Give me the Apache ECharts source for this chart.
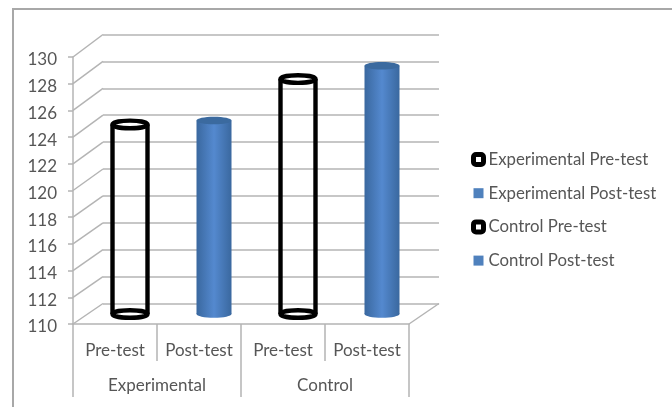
<!DOCTYPE html>
<html>
<head>
<meta charset="utf-8">
<style>html,body{margin:0;padding:0;background:#fff}#c{width:672px;height:407px}</style>
<script src="https://cdn.jsdelivr.net/npm/echarts@6/dist/echarts.min.js"></script>
</head>
<body>
<div id="c"></div>
<script>
// Pre-test and post-test scores for the two study groups
const testLabels = ['Pre-test', 'Post-test', 'Pre-test', 'Post-test'];
const groupLabels = ['Experimental', 'Control'];
const seriesNames = ['Experimental Pre-test', 'Experimental Post-test', 'Control Pre-test', 'Control Post-test'];
const seriesValues = [124.2, 124.5, 127.6, 128.6];
const seriesHollow = [true, false, true, false];
const axisTicks = [110, 112, 114, 116, 118, 120, 122, 124, 126, 128, 130];

const FONT = 'Lato';
const TEXT = '#565656';
const LINE = '#b4b4b4';
const DEPTH_X = 30;
const DEPTH_Y = 20;

const chart = echarts.init(document.getElementById('c'), null, { renderer: 'canvas' });

// Cylinder standing on the mid-depth of the floor
function cylinder(index) {
  return function (params, api) {
    const top = api.coord([api.value(0), api.value(1)]);
    const base = api.coord([api.value(0), 110]);
    const cx = top[0] + DEPTH_X / 2;
    const yTop = top[1] - DEPTH_Y / 2;
    const yBase = base[1] - DEPTH_Y / 2;
    const rx = 17.5;
    const ry = 3.8;
    if (seriesHollow[index]) {
      const pen = { stroke: '#000', lineWidth: 4.4, fill: null };
      return {
        type: 'group',
        children: [
          { type: 'line', shape: { x1: cx - rx, y1: yTop, x2: cx - rx, y2: yBase }, style: pen },
          { type: 'line', shape: { x1: cx + rx, y1: yTop, x2: cx + rx, y2: yBase }, style: pen },
          { type: 'ellipse', shape: { cx: cx, cy: yBase, rx: rx, ry: ry }, style: { stroke: '#000', lineWidth: 4.4, fill: '#fff' } },
          { type: 'ellipse', shape: { cx: cx, cy: yTop, rx: rx, ry: ry }, style: { stroke: '#000', lineWidth: 4.4, fill: '#fff' } }
        ]
      };
    }
    const side = new echarts.graphic.LinearGradient(0, 0, 1, 0, [
      { offset: 0, color: '#3a689f' },
      { offset: 0.5, color: '#5489cf' },
      { offset: 1, color: '#3a689f' }
    ]);
    return {
      type: 'group',
      children: [
        { type: 'ellipse', shape: { cx: cx, cy: yBase, rx: rx, ry: ry }, style: { fill: side } },
        { type: 'rect', shape: { x: cx - rx, y: yTop, width: rx * 2, height: yBase - yTop }, style: { fill: side } },
        { type: 'ellipse', shape: { cx: cx, cy: yTop, rx: rx, ry: ry }, style: { fill: '#3b6a9f' } }
      ]
    };
  };
}

// Receding lines of the left wall and of the right floor edge
function wallLines(params, api) {
  const v = api.value(0);
  const front = api.coord([0, v]);
  const left = front[0] - (params.coordSys.width / testLabels.length) / 2;
  const back = chart.convertToPixel({ gridIndex: 1 }, [0, v]);
  const children = [{
    type: 'line',
    shape: { x1: left, y1: front[1], x2: left + DEPTH_X, y2: back[1] },
    style: { stroke: LINE, lineWidth: 1.5 }
  }];
  if (v === axisTicks[0]) {
    const right = left + params.coordSys.width;
    children.push({
      type: 'line',
      shape: { x1: right, y1: front[1], x2: right + DEPTH_X, y2: back[1] },
      style: { stroke: LINE, lineWidth: 1.5 }
    });
  }
  return { type: 'group', children: children };
}

const legendIcon = function (i) {
  return seriesHollow[i]
    ? { name: seriesNames[i], icon: 'roundRect', itemStyle: { color: '#fff', borderColor: '#000', borderWidth: 5 } }
    : { name: seriesNames[i], icon: 'rect', itemStyle: { color: '#4f81bd', borderWidth: 0 } };
};

const baseOption = {
  animation: false,
  backgroundColor: '#fff',
  textStyle: { fontFamily: FONT },
  graphic: [{
    type: 'rect', silent: true, z: -1,
    shape: { x: 13, y: 9, width: 700, height: 440 },
    style: { fill: '#fff', stroke: '#a8a8a8', lineWidth: 2 }
  }],
  legend: {
    orient: 'vertical', left: 471, top: 151, padding: 0, itemGap: 16.7,
    itemWidth: 10, itemHeight: 10,
    textStyle: { fontFamily: FONT, fontSize: 16.8, color: TEXT },
    data: seriesNames.map(function (n, i) { return legendIcon(i); })
  },
  grid: [
    { left: 73, top: 57, width: 336, height: 267 },
    { left: 103, top: 34.5, width: 336, height: 269 }
  ],
  xAxis: [
    {
      type: 'category', gridIndex: 0, data: testLabels,
      axisLine: { lineStyle: { color: LINE, width: 1.5 } },
      axisTick: { show: true, length: 37, lineStyle: { color: LINE, width: 1.5 } },
      axisLabel: { fontFamily: FONT, fontSize: 17, color: TEXT, margin: 18, interval: 0 }
    },
    {
      type: 'category', gridIndex: 0, position: 'bottom', data: groupLabels,
      axisLine: { show: false },
      axisTick: { show: true, length: 73, lineStyle: { color: LINE, width: 1.5 } },
      axisLabel: { fontFamily: FONT, fontSize: 17, color: TEXT, margin: 53, interval: 0 }
    },
    {
      type: 'category', gridIndex: 1, data: testLabels,
      axisLine: { show: false }, axisTick: { show: false }, axisLabel: { show: false }
    }
  ],
  yAxis: [
    {
      type: 'value', gridIndex: 0, min: 110, max: 130, interval: 2,
      axisLine: { show: true, lineStyle: { color: LINE, width: 1.5 } },
      axisTick: { show: true, length: 5, lineStyle: { color: LINE, width: 1.5 } },
      axisLabel: { fontFamily: FONT, fontSize: 17, color: TEXT, margin: 16, verticalAlign: 'top', lineHeight: 6 },
      splitLine: { show: false }
    },
    {
      type: 'value', gridIndex: 1, min: 110, max: 130, interval: 2,
      axisLine: { show: false }, axisTick: { show: false }, axisLabel: { show: false },
      splitLine: { show: true, lineStyle: { color: LINE, width: 1.5 } }
    }
  ],
  series: seriesNames.map(function (name, i) {
    return {
      name: name,
      type: 'custom',
      xAxisIndex: 0,
      yAxisIndex: 0,
      z: 5,
      renderItem: cylinder(i),
      encode: { x: 0, y: 1 },
      data: [[i, seriesValues[i]]]
    };
  })
};

chart.setOption(baseOption);

// Back-grid pixels are known once the axes are laid out, so the wall lines follow
chart.setOption({
  series: baseOption.series.concat([{
    name: 'walls',
    type: 'custom',
    xAxisIndex: 0,
    yAxisIndex: 0,
    z: 1,
    renderItem: wallLines,
    encode: { y: 0 },
    data: axisTicks.map(function (t) { return [t]; })
  }])
});
</script>
</body>
</html>
